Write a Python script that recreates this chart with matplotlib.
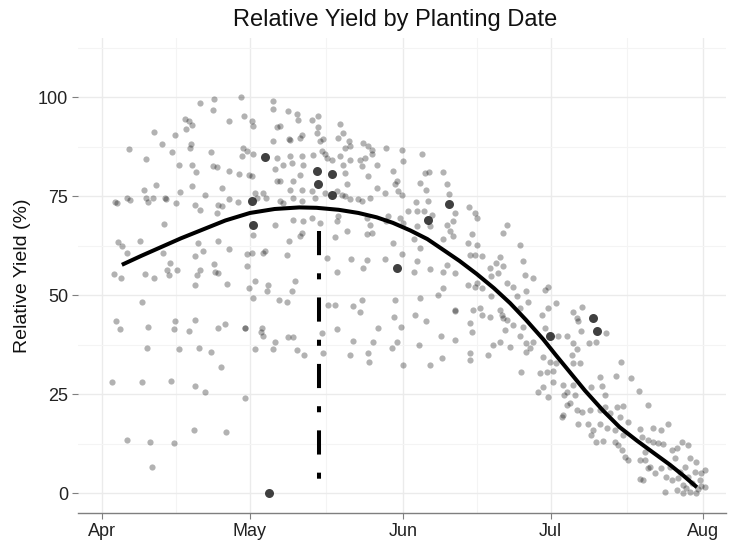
import datetime
import matplotlib
matplotlib.use("Agg")
import matplotlib.pyplot as plt
import matplotlib.dates as mdates
import numpy as np

# days after 1 April, relative yield (%)
field_days = [
    # April, upper part
    19.9, 22.6, 28.2, 22.4, 16.8, 17.6, 18.2, 25.8, 28.7, 10.6, 14.7, 17.0, 12.2, 18.0, 17.9,
    5.4, 14.2, 22.1, 28.5, 28.3, 29.3, 8.8, 15.6, 18.2, 19.1, 22.4, 23.3, 25.8, 27.8, 29.7,
    10.9, 8.4, 15.7, 18.2, 20.8, 24.3, 2.6, 3.1, 5.0, 5.7, 8.9, 9.4, 10.4, 12.8, 12.9, 15.0,
    18.9, 19.9, 23.6, 24.3, 25.8, 27.6, 12.6, 23.3,
    # April, middle
    3.3, 4.0, 5.0, 7.7, 12.3, 13.8, 13.1, 13.5, 15.1, 19.5, 20.5, 18.9, 19.9, 19.2, 22.6,
    22.9, 23.6, 23.5, 25.8, 29.3, 29.3, 29.7, 2.5, 3.9, 8.6, 10.6, 18.9, 25.3, 8.0, 2.8, 3.7,
    9.4, 14.7, 14.5, 17.6, 18.9, 23.6, 24.9, 28.9, 28.9, 9.1, 15.6, 19.7, 22.0, 24.1,
    # April, low
    2.0, 8.0, 14.0, 18.9, 20.9, 29.0, 18.7, 25.1, 5.0, 9.7, 14.5, 10.2,
    # May, upper part
    34.6, 34.7, 30.4, 30.7, 37.8, 39.5, 39.8, 42.5, 43.9, 35.4, 36.0, 34.6, 38.0, 38.1, 40.2,
    40.5, 43.5, 43.9, 44.2, 44.9, 48.3, 48.8, 47.9, 50.0, 50.3, 49.3, 53.0, 54.0, 54.7, 54.7,
    57.7, 60.8, 30.7, 35.4, 38.1, 38.5, 36.8, 40.5, 40.8, 42.7, 44.6, 45.2, 45.6, 46.6, 48.3,
    48.8, 50.2, 52.3, 52.7, 53.3, 55.7, 54.0, 59.1, 61.1, 35.1, 40.2, 49.3, 30.4, 35.4, 36.1,
    38.8, 38.1, 40.5, 42.5, 45.2, 47.6, 48.6, 49.3, 50.3, 52.0, 52.7, 54.4, 49.6, 55.7, 57.4,
    59.4, 59.8, 60.1, 60.8, 32.7, 33.3, 31.0, 31.4, 36.1, 36.8, 38.8, 40.5, 43.2, 38.8, 40.8,
    42.5, 35.1, 44.2, 47.6, 47.9, 53.7, 54.4, 57.7, 58.1, 60.4, 61.1, 62.1,
    # May, lower part
    30.7, 30.4, 31.0, 30.7, 33.1, 32.7, 33.7, 33.4, 37.5, 38.0, 40.5, 40.2, 39.1, 38.5, 35.8,
    37.5, 45.6, 47.3, 47.6, 45.9, 47.3, 49.6, 50.6, 53.0, 53.7, 53.7, 54.7, 57.3, 59.1, 60.8,
    51.0, 52.7, 52.3, 59.4, 59.2, 32.4, 32.6, 32.2, 35.1, 37.8, 38.8, 44.6, 47.7, 44.9, 50.3,
    51.0, 55.0, 56.0, 59.8, 60.6, 31.0, 34.7, 39.5, 41.0, 54.0, 54.2, 58.9, 61.0,
    # June, upper part
    65.0, 65.5, 66.4, 69.1, 64.5, 70.0, 65.7, 70.4, 63.7, 66.2, 63.8, 65.3, 66.9, 71.6, 74.5,
    75.7, 76.0, 69.9, 71.3, 82.2, 63.8, 66.5,
    # June, middle
    70.6, 75.0, 81.4, 71.3, 63.2, 64.5, 69.2, 74.3, 76.0, 84.8, 75.7, 77.0, 74.6, 80.7, 80.0,
    81.4, 63.8, 69.9, 71.6, 69.2, 66.5, 63.3, 78.7, 80.4, 79.0, 85.5, 85.8, 87.5, 82.1, 83.4,
    74.3, 75.7, 76.0, 77.0, 69.2, 68.2, 64.5, 79.0, 84.1, 86.1, 90.5, 89.9, 86.5, 84.8, 90.5,
    92.2, 71.6, 71.7, 75.3, 76.7, 77.0, 78.7, 80.7, 81.1, 81.4, 63.5, 65.7, 74.6, 82.1, 83.4,
    85.5, 89.2, 89.9, 92.6, 94.3, 81.7, 84.8, 86.1, 87.5, 86.8, 68.7, 71.6, 75.0, 64.2, 79.4,
    80.7, 82.8, 86.1, 78.4, 74.6, 68.9, 66.5, 74.6, 90.9, 89.5, 92.2,
    # late June, low
    85.1, 88.8, 90.2, 91.5, 91.5, 89.5, 88.5, 90.5, 93.6, 94.3, 93.7, 94.3, 93.6, 93.4,
    # July
    97.3, 95.5, 96.3, 96.6, 102.2, 97.1, 98.7, 100.3, 95.6, 96.3, 95.3, 97.0, 95.6, 105.2,
    101.1, 104.3, 107.4, 95.6, 99.3, 101.4, 102.0, 109.0, 95.9, 94.9, 96.3, 97.3, 99.0, 101.0,
    102.0, 104.4, 105.7, 110.8, 103.0, 105.1, 106.8, 98.6, 96.6, 101.0, 102.4, 99.7, 104.1,
    105.7, 109.1, 111.8, 113.5, 114.9, 99.3, 100.3, 101.7, 104.1, 104.7, 105.4, 106.1, 106.8,
    109.5, 110.8, 110.1, 111.8, 112.8, 113.8, 115.6, 116.6, 117.6, 118.9, 116.2, 119.3, 109.1,
    110.1, 110.8, 109.1, 109.8, 112.2, 113.5, 115.2, 114.5, 115.6, 117.3, 118.3, 120.6, 120.3,
    121.6, 122.3, 121.4, 122.3, 114.2, 116.6, 117.9, 119.3, 120.6, 121.6, 117.9, 111.1,
    118.5, 119.8, 120.9, 116.9, 118.8,
]
field_yield = [
    98.5, 99.7, 100.0, 96.7, 94.6, 94.0, 93.0, 94.0, 95.3, 91.3, 90.5, 92.0, 88.3, 88.1, 87.3,
    87.0, 86.1, 86.1, 87.3, 85.3, 86.4, 84.4, 83.0, 82.8, 81.2, 82.6, 82.4, 81.3, 80.7, 80.5,
    77.8, 76.5, 76.1, 77.7, 75.4, 77.0, 73.6, 73.3, 74.6, 74.1, 74.6, 73.6, 74.6, 74.5, 74.3, 73.2,
    72.7, 71.6, 72.7, 72.5, 74.4, 73.6, 68.0, 70.8,
    63.4, 62.5, 60.7, 63.6, 60.7, 58.2, 56.5, 55.2, 56.5, 63.2, 61.1, 60.0, 56.5, 55.2, 57.9,
    55.8, 55.6, 63.8, 61.7, 60.5, 57.3, 51.8, 55.4, 54.4, 55.4, 54.4, 52.7, 52.9, 48.4, 43.4, 41.5,
    41.9, 43.4, 41.4, 41.1, 43.8, 41.7, 42.7, 41.8, 41.8, 36.6, 36.5, 36.6, 35.8, 32.0,
    28.1, 28.1, 28.4, 27.1, 25.6, 24.1, 15.9, 15.4, 13.4, 12.9, 12.8, 6.7,
    99.1, 97.0, 94.0, 92.7, 96.5, 95.7, 94.4, 94.4, 95.3, 92.5, 92.7, 88.9, 89.5, 89.3, 89.8,
    90.6, 91.1, 92.5, 88.9, 89.4, 93.2, 91.1, 89.8, 88.9, 87.7, 87.3, 88.5, 87.7, 85.6, 86.8,
    87.3, 86.6, 85.6, 84.6, 85.1, 83.5, 83.0, 85.1, 83.0, 85.4, 86.4, 85.6, 84.7, 84.3, 85.1,
    83.0, 84.1, 84.3, 82.6, 84.7, 83.0, 80.1, 81.3, 83.9, 81.8, 80.5, 80.9, 80.1, 78.8, 78.8,
    78.8, 76.7, 76.7, 76.3, 75.9, 76.3, 75.4, 75.0, 74.2, 74.2, 73.7, 74.6, 78.0, 77.1, 75.9,
    78.0, 78.8, 76.3, 75.4, 75.9, 74.6, 75.9, 74.6, 73.7, 73.3, 74.6, 73.7, 74.6, 69.1, 68.7,
    69.5, 67.8, 68.3, 68.7, 70.0, 69.5, 67.8, 68.7, 70.0, 69.5, 68.3, 71.2,
    65.3, 60.7, 53.5, 49.3, 61.1, 60.7, 52.7, 51.0, 60.3, 63.6, 65.7, 65.1, 53.5, 51.1, 48.7,
    48.2, 59.4, 64.7, 56.0, 47.6, 47.6, 66.2, 59.1, 56.9, 58.8, 65.6, 65.7, 59.2, 63.2, 60.5,
    47.2, 48.9, 45.9, 48.9, 44.5, 41.7, 39.6, 40.7, 38.3, 39.4, 39.4, 40.6, 41.4, 35.5, 34.9,
    38.5, 38.1, 41.7, 38.3, 41.9, 36.4, 36.4, 36.2, 34.9, 35.5, 33.2, 36.6, 32.4,
    85.8, 80.9, 81.2, 81.1, 78.4, 78.2, 76.5, 75.6, 73.6, 73.7, 71.2, 71.4, 70.4, 70.8, 72.2,
    70.8, 69.5, 67.8, 68.7, 67.8, 67.4, 67.4,
    66.2, 65.6, 65.7, 64.9, 64.1, 61.9, 64.1, 63.2, 62.8, 62.8, 60.3, 60.0, 60.3, 59.8, 58.2,
    57.3, 58.6, 57.7, 55.6, 56.0, 56.6, 56.0, 56.9, 55.6, 54.8, 58.6, 55.2, 54.4, 53.1, 52.2,
    52.7, 52.2, 53.1, 51.8, 51.8, 50.1, 49.3, 49.7, 49.7, 51.0, 52.2, 51.4, 48.4, 46.8, 46.8,
    48.0, 46.3, 46.1, 46.3, 46.8, 45.1, 44.6, 46.3, 45.1, 44.2, 45.1, 43.6, 43.0, 43.8, 42.5,
    42.1, 45.1, 41.7, 39.6, 39.6, 41.3, 39.6, 37.9, 38.3, 36.6, 39.7, 38.7, 40.8, 37.5, 37.5,
    38.3, 37.0, 35.8, 34.9, 35.4, 34.1, 32.4, 33.7, 33.2, 34.5, 32.8,
    30.7, 30.3, 30.7, 30.9, 28.2, 26.9, 25.6, 24.4, 27.3, 25.6, 24.8, 22.3, 19.7, 19.3,
    47.0, 45.9, 44.2, 43.4, 40.6, 41.1, 38.0, 38.3, 37.9, 36.4, 34.9, 33.0, 32.8, 33.2,
    29.3, 29.6, 29.0, 27.3, 26.9, 27.1, 24.8, 25.9, 24.8, 22.7, 21.0, 20.6, 21.0, 21.0,
    21.8, 21.8, 22.0, 22.3, 20.2, 19.3, 18.1, 17.6, 17.6, 17.6, 16.4, 15.9, 15.9,
    14.7, 16.1, 16.4, 15.9, 17.6, 14.7, 13.0, 13.2, 13.0, 12.2, 10.9, 9.2, 8.4,
    14.3, 13.4, 10.5, 13.0, 12.6, 12.4, 10.9, 11.3, 13.0, 12.2, 8.8, 8.8, 8.4,
    8.4, 6.3, 3.7, 3.3, 5.0, 6.3, 6.7, 4.1, 3.3, 5.4, 6.7, 7.9, 5.4,
    5.0, 5.8, 3.3, 1.6, 0.3, 0.8, 0.0, 0.3, 0.0, 1.8, 2.0, 6.7,
    1.2, 2.5, 1.0, 3.9, 4.2,
]

# highlighted trials
trial_days = [30.4, 30.7, 33.1, 33.9, 43.5, 43.9, 46.6, 46.6, 59.8, 66.2, 70.4, 90.9, 99.7, 100.5]
trial_yield = [73.7, 67.8, 85.0, 0.0, 81.5, 78.2, 80.7, 75.4, 56.9, 69.1, 73.1, 39.6, 44.2, 41.1]

# fitted curve
fit_days = [4.0, 8.0, 12.0, 16.0, 20.0, 25.0, 30.0, 35.0, 40.0, 43.5, 48.0, 52.0, 55.7, 59.0,
            62.5, 66.0, 69.2, 72.5, 76.0, 79.5, 82.8, 86.0, 89.5, 92.0, 94.9, 98.0, 101.7,
            105.0, 108.5, 112.0, 115.2, 118.0, 120.7]
fit_yield = [57.7, 60.0, 62.2, 64.4, 66.4, 68.9, 70.8, 71.8, 72.2, 72.1, 71.6, 70.8, 69.7, 68.3,
             66.4, 64.2, 61.5, 58.7, 55.4, 51.8, 48.0, 43.8, 38.9, 35.0, 30.6, 25.9, 20.8,
             16.7, 13.3, 10.1, 7.2, 4.4, 1.5]

# optimum planting date marker
opt_day = 44.0
opt_range = [66.3, 2.8]

month_labels = ["Apr", "May", "Jun", "Jul", "Aug"]

start = mdates.date2num(datetime.datetime(2015, 4, 1))


def to_date(days):
    return start + np.array(days)


plt.rcParams["font.family"] = ["Liberation Sans", "DejaVu Sans"]

fig = plt.figure(figsize=(7.29, 5.49), dpi=100)
ax = fig.add_axes([78 / 729, 36 / 549, 648 / 729, 475 / 549])

ax.scatter(to_date(field_days), field_yield, s=20, color="black", alpha=0.3,
           linewidths=0, zorder=2)
ax.plot(to_date(fit_days), fit_yield, color="black", lw=2.9, solid_capstyle="butt", zorder=3)
ax.plot(to_date([opt_day, opt_day]), opt_range, color="black", lw=2.9,
        dashes=(6, 4.5, 1.5, 4.5), zorder=3)
ax.scatter(to_date(trial_days), trial_yield, s=42, color="#1e1e1e", alpha=0.85,
           linewidths=0, zorder=4)

# axes
month_starts = [mdates.date2num(datetime.datetime(2015, m, 1)) for m in range(4, 9)]
month_mids = [(a + b) / 2 for a, b in zip(month_starts[:-1], month_starts[1:])]
ax.set_xticks(month_starts)
ax.set_xticklabels(month_labels)
ax.set_xticks(month_mids, minor=True)
ax.set_xlim(start - 4.9, start + 126.6)

ax.set_yticks([0, 25, 50, 75, 100])
ax.set_yticks([12.5, 37.5, 62.5, 87.5, 112.5], minor=True)
ax.set_ylim(-5, 115)

ax.grid(which="major", color="#ebebeb", lw=1.0)
ax.grid(which="minor", color="#f4f4f4", lw=0.8)
ax.set_axisbelow(True)

for side in ["top", "right", "left"]:
    ax.spines[side].set_visible(False)
ax.spines["bottom"].set_color("#7f7f7f")
ax.spines["bottom"].set_linewidth(1.0)

ax.tick_params(which="major", length=4, color="#7f7f7f", labelsize=13,
               labelcolor="#222222", pad=3)
ax.tick_params(which="minor", length=0)

ax.set_ylabel("Relative Yield (%)", fontsize=14, color="#111111")
ax.yaxis.set_label_coords(-0.072, 0.5)

fig.text(395 / 729, 1 - 20 / 549, "Relative Yield by Planting Date", ha="center",
         va="center", fontsize=17, color="#111111")

fig.savefig("out.png", dpi=100)
